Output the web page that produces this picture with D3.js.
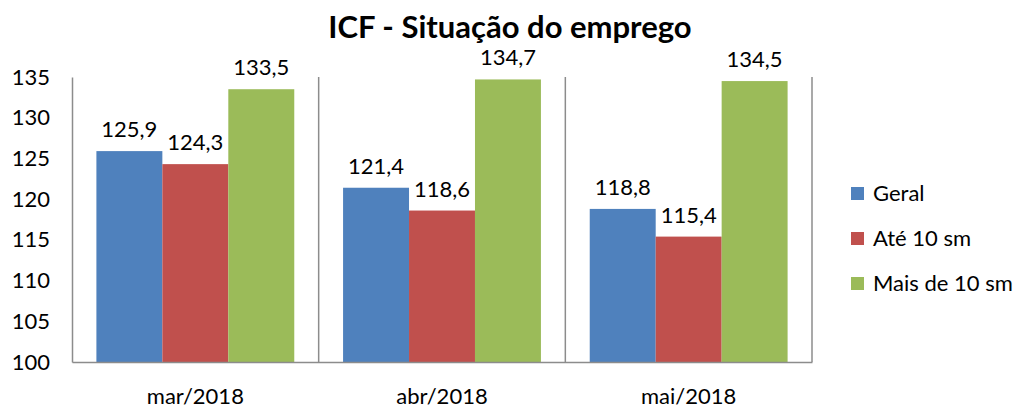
<!DOCTYPE html>
<html>
<head>
<meta charset="utf-8">
<script src="https://cdn.jsdelivr.net/npm/d3@7"></script>
<style>
  body { margin: 0; background: #fff; }
  text { font-family: Lato, "Open Sans", sans-serif; fill: #000; }
</style>
</head>
<body>
<div id="chart"></div>
<script>
const categories = ["mar/2018", "abr/2018", "mai/2018"];
const series = ["Geral", "Até 10 sm", "Mais de 10 sm"];
const geral = [125.9, 121.4, 118.8];
const ate10 = [124.3, 118.6, 115.4];
const mais10 = [133.5, 134.7, 134.5];
const yTicks = [100, 105, 110, 115, 120, 125, 130, 135];
const colors = ["#4f81bd", "#c0504d", "#9bbb59"];

const values = [geral, ate10, mais10];
const width = 1019, height = 408;
const plotLeft = 72, plotRight = 812, plotTop = 77, plotBottom = 362;

const svg = d3.select("#chart").append("svg")
  .attr("width", width)
  .attr("height", height);

const x = d3.scaleBand().domain(categories).range([plotLeft, plotRight]).paddingInner(0).paddingOuter(0);
const xs = d3.scaleBand().domain(series).range([0, x.bandwidth()]).paddingInner(0).paddingOuter(0.37);
const y = d3.scaleLinear().domain([100, 135]).range([plotBottom, plotTop]);

// title
svg.append("text")
  .attr("x", 510).attr("y", 38)
  .attr("text-anchor", "middle")
  .style("font-size", "31px").style("font-weight", "bold")
  .text("ICF - Situação do emprego");

// bars
categories.forEach((c, i) => {
  const g = svg.append("g").attr("transform", `translate(${x(c)},0)`);
  series.forEach((s, j) => {
    const v = values[j][i];
    g.append("rect")
      .attr("x", xs(s)).attr("width", xs.bandwidth())
      .attr("y", y(v)).attr("height", y(100) - y(v))
      .attr("fill", colors[j]);
    g.append("text")
      .attr("x", xs(s) + xs.bandwidth() / 2)
      .attr("y", y(v) - 14)
      .attr("text-anchor", "middle")
      .style("font-size", "22px")
      .text(d3.format(".1f")(v).replace(".", ","));
  });
});

// category separators
const gridColor = "#8c8c8c";
svg.selectAll(".sep").data(categories)
  .join("line")
  .attr("x1", d => x(d) + x.bandwidth())
  .attr("x2", d => x(d) + x.bandwidth())
  .attr("y1", plotTop).attr("y2", plotBottom)
  .attr("stroke", gridColor).attr("stroke-width", 1.5);

// y axis
const yAxis = svg.append("g")
  .attr("transform", `translate(${plotLeft},0)`)
  .call(d3.axisLeft(y).tickValues(yTicks).tickSize(0).tickPadding(22));
yAxis.select(".domain").attr("stroke", gridColor).attr("stroke-width", 1.5);
yAxis.selectAll("text").style("font-size", "22px").attr("fill", "#000");

// x axis
const xAxis = svg.append("g")
  .attr("transform", `translate(0,${plotBottom})`)
  .call(d3.axisBottom(x).tickSize(0).tickPadding(26));
xAxis.select(".domain").attr("stroke", gridColor).attr("stroke-width", 1.5);
xAxis.selectAll("text").style("font-size", "22px").attr("fill", "#000");

// legend
const legend = svg.append("g").attr("transform", "translate(851,187)");
series.forEach((s, j) => {
  const row = legend.append("g").attr("transform", `translate(0,${j * 45})`);
  row.append("rect").attr("width", 13).attr("height", 13).attr("fill", colors[j]);
  row.append("text").attr("x", 22).attr("y", 14)
    .style("font-size", "22px").text(s);
});
</script>
</body>
</html>
